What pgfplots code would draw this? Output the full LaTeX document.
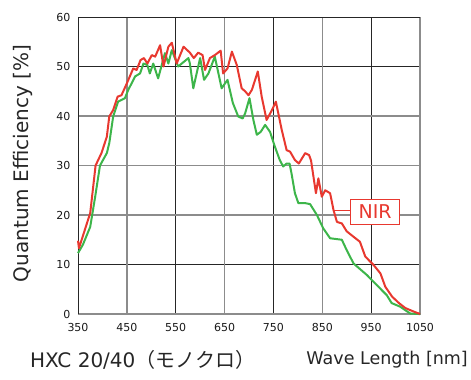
\documentclass[border=0pt]{standalone}
\usepackage{pgfplots}
\pgfplotsset{compat=1.18}
\usepackage{pgfplotstable}
\usepackage{fontspec}
\setmainfont{DejaVu Sans}
\newfontfamily\cjk{Noto Sans CJK JP}
\definecolor{qred}{HTML}{E8382F}
\definecolor{qgreen}{HTML}{3DB54A}
\definecolor{ggray}{HTML}{8C8C8C}

\pgfplotstableread{
x y
350 14.8
352 13.3
364 17
375 20.4
386 30
398 32.5
409 35.8
414 39.9
422 41.2
431 43.9
439 44.2
450 46.6
463 49.6
470 49.3
478 51.3
485 51.7
492 50.6
501 52.3
508 52
518 54.3
525 50
535 54
542 54.8
552 50.6
566 54
579 52.8
587 51.7
596 52.8
605 52.3
610 49.3
620 51.7
630 52.3
642 53.2
647 48.6
656 49.6
665 53
675 50.3
685 45.6
692 45
699 44.2
706 45.3
718 49
726 43.9
736 39.2
747 41.2
755 42.9
767 37.2
777 33.1
784 32.8
794 31.1
802 30.4
815 32.5
823 32.1
827 31
837 24.4
842 27.4
849 23.7
856 25
866 24.4
873 21
880 18.6
890 18.3
900 16.7
914 15.6
927 14.6
938 11.6
948 10.6
955 9.9
969 8.2
979 5.5
993 3.5
1007 2.2
1020 1.2
1037 0.5
1050 0
}\nirdata

\pgfplotstableread{
x y
350 12.3
360 14
375 17.6
385 23.6
395 30
409 32.5
414 34.5
422 39.9
432 42.9
446 43.6
453 45.3
467 48
477 48.6
484 50.6
492 50.3
497 48.6
504 50.6
514 47.6
528 52.7
535 50.6
542 53.3
555 50
576 51.7
579 50.6
586 45.6
596 50
600 51.7
608 47.3
617 48.6
630 52
644 45.6
656 47.3
667 42.6
678 39.9
687 39.5
692 40.5
701 43.6
709 39.2
716 36.2
724 36.8
733 38.2
743 36.8
753 33.8
763 31.1
770 29.8
777 30.4
783 30.4
787 28.4
794 24.4
801 22.4
815 22.4
825 22.2
839 20
852 17.3
866 15.3
890 15
900 12.9
914 10.2
941 7.9
961 5.9
982 3.8
992 2.2
1009 1.5
1030 0.1
1047 0
1050 0
}\monodata

\begin{document}
\begin{tikzpicture}
\begin{axis}[
  name=ax,
  scale only axis,
  width=342pt, height=297pt,
  xmin=350, xmax=1050, ymin=0, ymax=60,
  xtick={350,550,750,950},
  extra x ticks={450,650,850,1050},
  ytick={0,10,50,60},
  extra y ticks={20,30,40},
  major tick length=0pt,
  grid=major,
  grid style={black!85, line width=0.8pt},
  extra x tick style={grid style={ggray, line width=1.3pt}},
  extra y tick style={grid style={ggray, line width=1.3pt}},
  axis line style={draw=none},
  /pgf/number format/assume math mode=true,
  /pgf/number format/set thousands separator={},
  tick label style={font=\fontsize{11}{13}\selectfont, text=black!90},
  xticklabel style={yshift=-6pt},
  yticklabel style={xshift=-4pt},
  clip=false,
]
\addplot[ggray, line width=1.3pt] coordinates {(350,0) (1050,0) (1050,60)};
\addplot[black!85, line width=0.8pt] coordinates {(350,0) (350,60) (1050,60)};
\addplot[qgreen, line width=2pt, line join=round] table[x=x,y=y] {\monodata};
\addplot[qred, line width=2pt, line join=round] table[x=x,y=y] {\nirdata};
\draw[qred, line width=1.4pt] (axis cs:873,20.9) -- (axis cs:909,20.9);
\node[draw=qred, line width=1.5pt, fill=white, text=qred, inner sep=0pt,
      minimum width=49pt, minimum height=25pt,
      font=\fontsize{19}{21}\selectfont] at (axis cs:958,20.6) {NIR};
\end{axis}
\node[rotate=90, font=\fontsize{20}{22}\selectfont, text=black!85] at ([xshift=-55pt,yshift=2pt]ax.west) {Quantum Efficiency [\%]};
\node[anchor=west, font=\fontsize{20}{22}\selectfont, text=black!85, inner sep=0pt] at ([xshift=-48pt,yshift=-46pt]ax.south west) {HXC 20/40{\cjk（モノクロ）}};
\node[anchor=east, font=\fontsize{17.5}{20}\selectfont, text=black!85, inner sep=0pt] at ([xshift=48pt,yshift=-46pt]ax.south east) {Wave Length [nm]};
\path[use as bounding box] ([xshift=-78pt,yshift=-66pt]ax.south west) rectangle ([xshift=51pt,yshift=17pt]ax.north east);
\end{tikzpicture}
\end{document}
